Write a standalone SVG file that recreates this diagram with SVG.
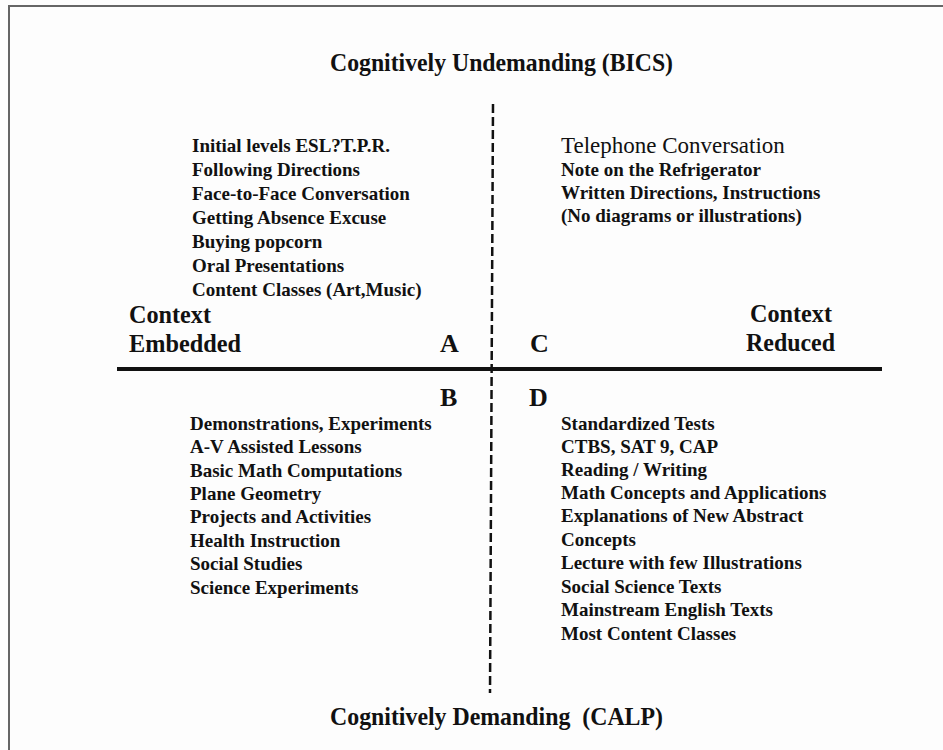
<svg xmlns="http://www.w3.org/2000/svg" width="943" height="750" viewBox="0 0 943 750">
<style>
text{font-family:"Liberation Serif","Times New Roman",serif;fill:#111}
.h{font-size:26px;font-weight:bold}
.i{font-size:19px;font-weight:bold}
.t{font-size:23px}
.frame{stroke:#666;stroke-width:2;fill:none}
.axis{stroke:#111;fill:none}
</style>
<rect width="943" height="750" fill="#fdfdfd"/>
<path class="frame" d="M9 750 V6 H943"/>
<g id="connectors">
<line class="axis" x1="117" y1="369" x2="882" y2="369" stroke-width="4"/>
<line class="axis" x1="493" y1="104" x2="490" y2="693" stroke-width="2.5" stroke-dasharray="9 4"/>
</g>
<g id="top-label"><text class="h" x="330" y="71" textLength="343" lengthAdjust="spacingAndGlyphs">Cognitively Undemanding (BICS)</text></g>
<g id="bottom-label"><text class="h" x="330" y="725" textLength="333" lengthAdjust="spacingAndGlyphs" xml:space="preserve">Cognitively Demanding  (CALP)</text></g>
<g id="left-label"><text class="h" x="129" y="323" textLength="82" lengthAdjust="spacingAndGlyphs">Context</text><text class="h" x="129" y="352" textLength="112" lengthAdjust="spacingAndGlyphs">Embedded</text></g>
<g id="right-label"><text class="h" x="750" y="322" textLength="82" lengthAdjust="spacingAndGlyphs">Context</text><text class="h" x="746" y="351" textLength="89" lengthAdjust="spacingAndGlyphs">Reduced</text></g>
<g id="quadrant-A">
<text class="h" x="440" y="352">A</text>
<text class="i" x="192" y="152">Initial levels ESL?T.P.R.</text>
<text class="i" x="192" y="176">Following Directions</text>
<text class="i" x="192" y="200">Face-to-Face Conversation</text>
<text class="i" x="192" y="224">Getting Absence Excuse</text>
<text class="i" x="192" y="248">Buying popcorn</text>
<text class="i" x="192" y="272">Oral Presentations</text>
<text class="i" x="192" y="296">Content Classes (Art,Music)</text>
</g>
<g id="quadrant-C">
<text class="h" x="530" y="352">C</text>
<text class="t" x="561" y="153">Telephone Conversation</text>
<text class="i" x="561" y="176">Note on the Refrigerator</text>
<text class="i" x="561" y="199">Written Directions, Instructions</text>
<text class="i" x="561" y="222">(No diagrams or illustrations)</text>
</g>
<g id="quadrant-B">
<text class="h" x="440" y="406">B</text>
<text class="i" x="190" y="430">Demonstrations, Experiments</text>
<text class="i" x="190" y="453">A-V Assisted Lessons</text>
<text class="i" x="190" y="477">Basic Math Computations</text>
<text class="i" x="190" y="500">Plane Geometry</text>
<text class="i" x="190" y="523">Projects and Activities</text>
<text class="i" x="190" y="547">Health Instruction</text>
<text class="i" x="190" y="570">Social Studies</text>
<text class="i" x="190" y="594">Science Experiments</text>
</g>
<g id="quadrant-D">
<text class="h" x="529" y="406">D</text>
<text class="i" x="561" y="430">Standardized Tests</text>
<text class="i" x="561" y="453">CTBS, SAT 9, CAP</text>
<text class="i" x="561" y="476">Reading / Writing</text>
<text class="i" x="561" y="499">Math Concepts and Applications</text>
<text class="i" x="561" y="522">Explanations of New Abstract</text>
<text class="i" x="561" y="546">Concepts</text>
<text class="i" x="561" y="569">Lecture with few Illustrations</text>
<text class="i" x="561" y="593">Social Science Texts</text>
<text class="i" x="561" y="616">Mainstream English Texts</text>
<text class="i" x="561" y="640">Most Content Classes</text>
</g>
</svg>
